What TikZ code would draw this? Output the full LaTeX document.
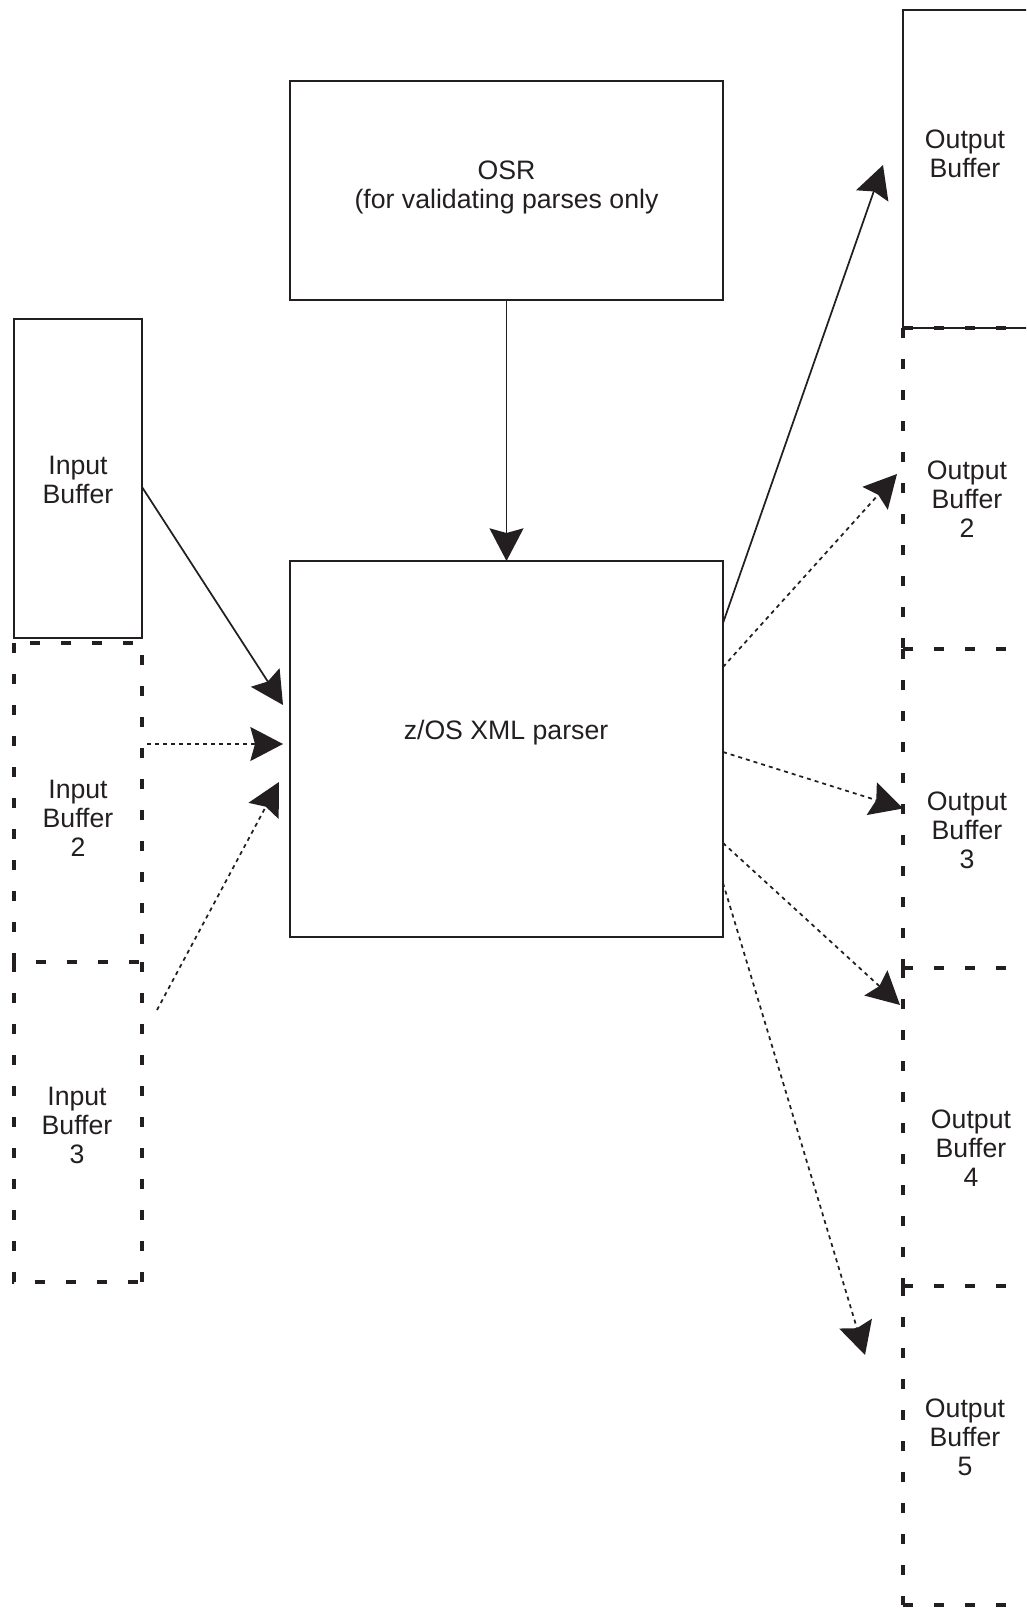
\documentclass[tikz,border=0pt]{standalone}
\usepackage{fontspec}
\setmainfont{Liberation Sans}
\usetikzlibrary{arrows.meta,calc}
\definecolor{ink}{RGB}{35,31,32}
\begin{document}
\begin{tikzpicture}[x=0.75pt,y=-0.75pt,
  box/.style={draw=ink,line width=1.5pt,inner sep=0pt,outer sep=0pt},
  dbox/.style={draw=none,inner sep=0pt,outer sep=0pt},
  dashedge/.style={draw=ink,line width=3.2pt,dash pattern=on 7.5pt off 15.75pt},
  lbl/.style={text=ink,align=center,inner sep=0pt,font=\fontsize{20pt}{21.75pt}\selectfont},
  tipst/.style={-{Stealth[length=24.5pt,width=25.5pt,inset=3.5pt]}},
  solidarrow/.style={draw=ink,line width=1.3pt,tipst},
  dotarrow/.style={draw=ink,line width=1.3pt,dash pattern=on 3pt off 3pt,tipst},
]
\useasboundingbox (0,0) rectangle (1026,1608);
\clip (0,0) rectangle (1026,1608);

% main boxes
\node[box,minimum width=433*0.75pt,minimum height=219*0.75pt] (osr) at (506.5,190.5) {};
\node[box,minimum width=433*0.75pt,minimum height=376*0.75pt] (parser) at (506.5,749) {};

% input buffers
\node[box,minimum width=128*0.75pt,minimum height=319*0.75pt] (in1) at (78,478.5) {};
\node[dbox,minimum width=128*0.75pt,minimum height=319*0.75pt] (in2) at (78,802.5) {};
\node[dbox,minimum width=128*0.75pt,minimum height=320*0.75pt] (in3) at (78,1122) {};

% output buffers
\node[box,minimum width=127*0.75pt,minimum height=318*0.75pt] (out1) at (966.5,169) {};
\node[dbox,minimum width=127*0.75pt,minimum height=321*0.75pt] (out2) at (966.5,488.5) {};
\node[dbox,minimum width=127*0.75pt,minimum height=319*0.75pt] (out3) at (966.5,808.5) {};
\node[dbox,minimum width=127*0.75pt,minimum height=318*0.75pt] (out4) at (966.5,1127) {};
\node[dbox,minimum width=127*0.75pt,minimum height=319*0.75pt] (out5) at (966.5,1445.5) {};

% dashed edges
\draw[dashedge] (in2.north west) rectangle (in2.south east);
\draw[dashedge] (in3.north west) -- (in3.south west) -- (in3.south east);
\draw[dashedge] (in3.north east) -- (in3.south east);
\foreach \o in {out2,out3,out4,out5}{
  \draw[dashedge] (\o.north west) -- (\o.north east);
  \draw[dashedge] (\o.north west) -- (\o.south west);
}
\draw[dashedge] (out5.south west) -- (out5.south east);

% labels
\node[lbl] (osrt) at (506.5,187) {OSR\\(for validating parses only};
\node[lbl] (parsert) at (506,733) {z/OS XML parser};
\node[lbl] (in1t) at (78,480) {Input\\Buffer};
\node[lbl] (in2t) at (78,818) {Input\\Buffer\\2};
\node[lbl] (in3t) at (77,1125) {Input\\Buffer\\3};
\node[lbl] (out1t) at (965,154) {Output\\Buffer};
\node[lbl] (out2t) at (967,499) {Output\\Buffer\\2};
\node[lbl] (out3t) at (967,830) {Output\\Buffer\\3};
\node[lbl] (out4t) at (971,1148) {Output\\Buffer\\4};
\node[lbl] (out5t) at (965,1437) {Output\\Buffer\\5};

% connectors
\draw[solidarrow] (osr) -- (parser);
\draw[solidarrow] ($(in1.east)+(0,8.5)$) -- ($(parser.west)+(-7,-44)$);
\draw[dotarrow] ($(in2.east)+(5,-58.5)$) -- ($(parser.west)+(-7,-5)$);
\draw[dotarrow] ($(in3.east)+(15,-112)$) -- ($(parser.west)+(-11,33)$);
\draw[solidarrow] ($(parser.east)+(0,-126)$) -- ($(out1.west)+(-20,-4)$);
\draw[dotarrow] ($(parser.east)+(0,-82)$) -- ($(out2.west)+(-6,-14.5)$);
\draw[dotarrow] ($(parser.east)+(0,3)$) -- (out3.west);
\draw[dotarrow] ($(parser.east)+(0,94)$) -- ($(out4.north west)+(-3,37)$);
\draw[dotarrow] ($(parser.east)+(0,134)$) -- ($(out5.north west)+(-38,69)$);
\end{tikzpicture}
\end{document}
